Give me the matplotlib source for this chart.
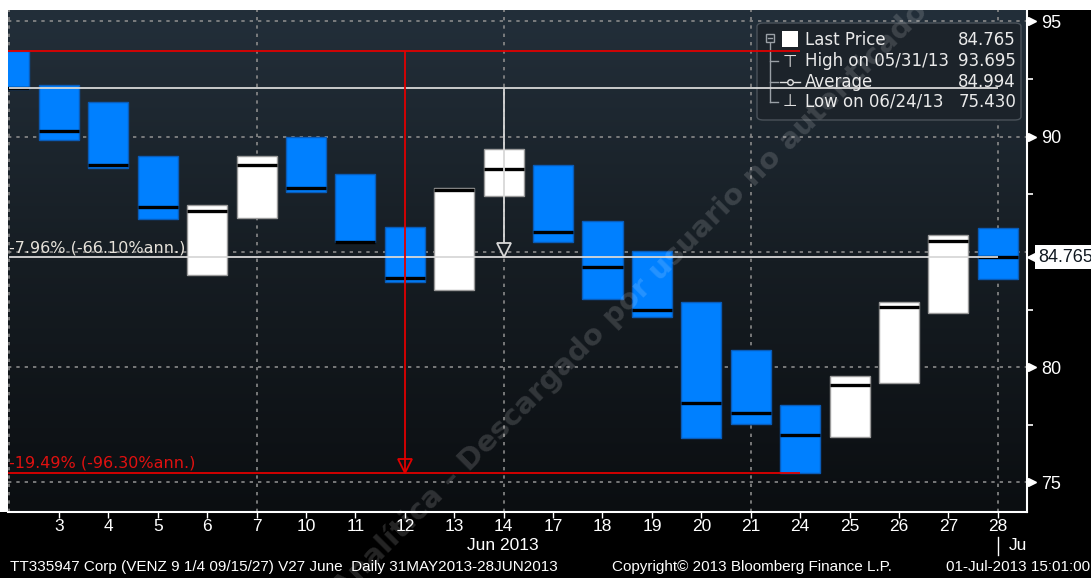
import numpy as np
import matplotlib
matplotlib.use('Agg')
import matplotlib.pyplot as plt
from matplotlib import transforms
from matplotlib.colors import LinearSegmentedColormap
from matplotlib.patches import Rectangle, FancyBboxPatch
from matplotlib.lines import Line2D

W, H = 1091, 578

# daily bars, 31 May 2013 .. 28 Jun 2013
day_labels = ['31', '3', '4', '5', '6', '7', '10', '11', '12', '13', '14',
              '17', '18', '19', '20', '21', '24', '25', '26', '27', '28']
highs = [93.695, 92.23, 91.49, 89.16, 87.03, 89.16, 90.00, 88.37, 86.10, 87.76, 89.45,
         88.77, 86.34, 85.04, 82.84, 80.75, 78.38, 79.62, 82.84, 85.74, 86.03]
lows = [92.08, 89.86, 88.63, 86.42, 83.99, 86.46, 87.61, 85.45, 83.71, 83.35, 87.43,
        85.45, 82.96, 82.17, 76.92, 77.54, 75.43, 76.96, 79.32, 82.34, 83.82]
closes = [92.10, 90.25, 88.76, 86.95, 86.76, 88.76, 87.79, 85.45, 83.86, 87.69, 88.59,
          85.88, 84.35, 82.48, 78.46, 78.00, 77.06, 79.22, 82.60, 85.48, 84.765]
# 1 = up day (white bar), 0 = down day (blue bar)
up_day = [0, 0, 0, 0, 1, 1, 0, 0, 0, 1, 1, 0, 0, 0, 0, 0, 0, 1, 1, 1, 0]
week_ends = [0, 5, 10, 15, 20]

last_price = 84.765
high_price = 93.695
avg_price = 84.994
low_price = 75.430
high_idx = 0
low_idx = 16

white_label = '-7.96% (-66.10%ann.)'
red_label = '-19.49% (-96.30%ann.)'


def fx(x):
    return x / W


def fy(y):
    return 1 - y / H


NARROW = ['Liberation Sans', 'DejaVu Sans']
BLUE = '#0080ff'
GRID = '#8a8a8a'

fig = plt.figure(figsize=(W / 100, H / 100), dpi=100, facecolor='black')
fig.add_artist(Rectangle((0, fy(10)), 1, 10 / H, transform=fig.transFigure,
                         facecolor='white', edgecolor='none', zorder=0))
fig.add_artist(Rectangle((0, fy(512)), 8 / W, 512 / H, transform=fig.transFigure,
                         facecolor='white', edgecolor='none', zorder=0))

ax = fig.add_axes([fx(8), fy(512), (1027 - 8) / W, (512 - 10) / H])
x0, x1, y0, y1 = -0.03, 20.59, 73.72, 95.49

# background gradient
cmap = LinearSegmentedColormap.from_list('bg', ['#232f3a', '#161d23', '#0b0e11'])
grad = np.linspace(0, 1, 256).reshape(-1, 1)
ax.imshow(grad, extent=(x0, x1, y0, y1), aspect='auto', cmap=cmap, origin='upper', zorder=0)
ax.set_xlim(x0, x1)
ax.set_ylim(y0, y1)

idx = np.arange(len(closes))
highs_a = np.array(highs)
lows_a = np.array(lows)
closes_a = np.array(closes)
face = ['white' if u else BLUE for u in up_day]
edge = ['#9a9a9a' if u else '#0a5cb8' for u in up_day]

width = 0.81
ax.bar(idx, highs_a - lows_a, width=width, bottom=lows_a, color=face,
       edgecolor=edge, linewidth=1, zorder=3)
ax.hlines(closes_a, idx - width / 2, idx + width / 2, colors='black', linewidth=2.4, zorder=4)

# grid
ax.set_axisbelow(True)
ax.set_yticks([75, 80, 85, 90, 95])
ax.set_yticklabels(['75', '80', '', '90', '95'])
ax.set_yticks([77.5, 82.5, 87.5, 92.5], minor=True)
ax.yaxis.grid(True, which='major', color=GRID, linestyle=(0, (2, 3)), linewidth=1.2)
for w in week_ends:
    ax.axvline(w, color=GRID, linestyle=(0, (2, 3)), linewidth=1.2, zorder=1)

# axes styling
for s in ['top', 'left']:
    ax.spines[s].set_visible(False)
for s in ['bottom', 'right']:
    ax.spines[s].set_color('white')
    ax.spines[s].set_linewidth(1.5)
ax.yaxis.tick_right()
ax.tick_params(axis='y', which='major', length=0, pad=10, labelcolor='white', labelsize=13)
ax.tick_params(axis='y', which='minor', length=4, width=1.2, color='white', direction='out')
for lab in ax.get_yticklabels():
    lab.set_family(NARROW)
ax.set_xticks(idx[1:])
ax.set_xticklabels(day_labels[1:], family=NARROW)
ax.tick_params(axis='x', length=4, width=1, color='white', labelcolor='white', labelsize=12.5, pad=1)

# triangles next to y labels
ytrans = transforms.blended_transform_factory(ax.transAxes, ax.transData)
tri_tr = transforms.offset_copy(ytrans, fig, x=3.5, units='points')
ax.plot([1.0] * 4, [75, 80, 90, 95], linestyle='none', marker='>', markersize=6,
        color='white', transform=tri_tr, clip_on=False, zorder=6)

# measurement lines: white (first close -> last close)
ax.hlines([closes[0], last_price], 0, 20, colors='#d8d8d8', linewidth=1.3, zorder=5)
mid_w = (0 + 20) / 2
ax.vlines(mid_w, last_price, closes[0], colors='#d8d8d8', linewidth=1.3, zorder=5)
tip_w = transforms.offset_copy(ax.transData, fig, y=5, units='points')
ax.plot([mid_w], [last_price], marker='v', markersize=10, markerfacecolor='#161d23',
        markeredgecolor='#d8d8d8', markeredgewidth=1.3, transform=tip_w, zorder=6)

# measurement lines: red (high -> low)
ax.hlines([high_price, low_price], x0, low_idx, colors='#e00000', linewidth=1.3, zorder=5)
mid_r = (high_idx + low_idx) / 2
ax.vlines(mid_r, low_price, high_price, colors='#e00000', linewidth=1.3, zorder=5)
ax.plot([mid_r], [low_price], marker='v', markersize=10, markerfacecolor='none',
        markeredgecolor='#e00000', markeredgewidth=1.3, transform=tip_w, zorder=6)

lab_tr = transforms.offset_copy(ytrans, fig, x=1, y=1.5, units='points')
ax.text(0.0, last_price, white_label, transform=lab_tr, color='#e6e2da', fontsize=11.5,
        va='bottom', ha='left', zorder=7)
ax.text(0.0, low_price, red_label, transform=lab_tr, color='#e01010', fontsize=11.5,
        va='bottom', ha='left', zorder=7)

# last price tag
ax.plot([1.0], [last_price], marker='<', markersize=9, color='white',
        transform=transforms.offset_copy(ytrans, fig, x=4, units='points'),
        clip_on=False, zorder=8)
ax.text(1.0, last_price, f'{last_price:.3f}', transform=transforms.offset_copy(ytrans, fig, x=8, units='points'),
        color='#101820', fontsize=13, va='center', ha='left', family=NARROW,
        bbox=dict(boxstyle='square,pad=0.2', facecolor='white', edgecolor='none'),
        clip_on=False, zorder=8)

# legend box
tf = fig.transFigure
ax.add_patch(FancyBboxPatch((fx(757), fy(120)), (1021 - 757) / W, (120 - 23) / H,
                            boxstyle='round,pad=0,rounding_size=0.006', transform=tf,
                            facecolor='#1c232a', edgecolor='#4a525a', linewidth=1,
                            zorder=4.5, clip_on=False))
tree = '#9aa0a6'
ax.add_line(Line2D([fx(770), fx(770)], [fy(43), fy(102)], transform=tf, color=tree, lw=1, zorder=4.6))
for yy in [61, 82, 102]:
    ax.add_line(Line2D([fx(770), fx(778)], [fy(yy), fy(yy)], transform=tf, color=tree, lw=1, zorder=4.6))
ax.add_patch(Rectangle((fx(766), fy(42)), 8 / W, 8 / H, transform=tf, facecolor='#1c232a',
                       edgecolor=tree, lw=1, zorder=4.7))
ax.add_line(Line2D([fx(768), fx(772)], [fy(38), fy(38)], transform=tf, color=tree, lw=1, zorder=4.8))
ax.add_patch(Rectangle((fx(782), fy(47)), 16 / W, 16 / H, transform=tf, facecolor='white',
                       edgecolor='none', zorder=4.7))
ax.text(fx(790), fy(61), '\u22a4', transform=tf, color='#e0e0e0', fontsize=12, ha='center', va='center', zorder=4.8)
ax.add_line(Line2D([fx(780), fx(800)], [fy(82), fy(82)], transform=tf, color='#e0e0e0', lw=1, zorder=4.8))
ax.plot([fx(790)], [fy(82)], transform=tf, marker='o', markersize=4, markerfacecolor='#1c232a',
        markeredgecolor='#e0e0e0', zorder=4.9, clip_on=False)
ax.text(fx(790), fy(101), '\u22a5', transform=tf, color='#e0e0e0', fontsize=12, ha='center', va='center', zorder=4.8)

leg_names = ['Last Price', 'High on 05/31/13', 'Average', 'Low on 06/24/13']
leg_vals = [last_price, high_price, avg_price, low_price]
for yy, nm, v in zip([40, 61, 82, 102], leg_names, leg_vals):
    ax.text(fx(805), fy(yy), nm, transform=tf, color='#eaeaea', fontsize=12, ha='left', va='center', zorder=5)
    ax.text(fx(1016), fy(yy), f'{v:.3f}', transform=tf, color='#eaeaea', fontsize=12, ha='right',
            va='center', zorder=5)

# month labels
fig.text(fx(503), fy(545), 'Jun 2013', color='white', fontsize=12.5, ha='center', va='center',
         family=NARROW)
fig.text(fx(1009), fy(545), 'Ju', color='white', fontsize=12.5, ha='left', va='center',
         family=NARROW)
fig.add_artist(Line2D([fx(998), fx(998)], [fy(537), fy(555)], transform=tf, color='white', lw=1))

# footer
fig.text(fx(10), fy(567), 'TT335947 Corp (VENZ 9 1/4 09/15/27) V27 June  Daily 31MAY2013-28JUN2013',
         color='white', fontsize=11, ha='left', va='center', family=NARROW)
fig.text(fx(612), fy(567), 'Copyright\u00a9 2013 Bloomberg Finance L.P.',
         color='white', fontsize=11, ha='left', va='center', family=NARROW)
fig.text(fx(1090), fy(567), '01-Jul-2013 15:01:00',
         color='white', fontsize=11, ha='right', va='center', family=NARROW)

# watermark
fig.text(fx(630), fy(300), 'Analítica \u2013 Descargado por usuario no autenticado',
         rotation=45, ha='center', va='center', rotation_mode='anchor', fontsize=21,
         fontweight='bold', color='white', alpha=0.15, zorder=10)

fig.savefig('out.png', dpi=100, facecolor='black')
